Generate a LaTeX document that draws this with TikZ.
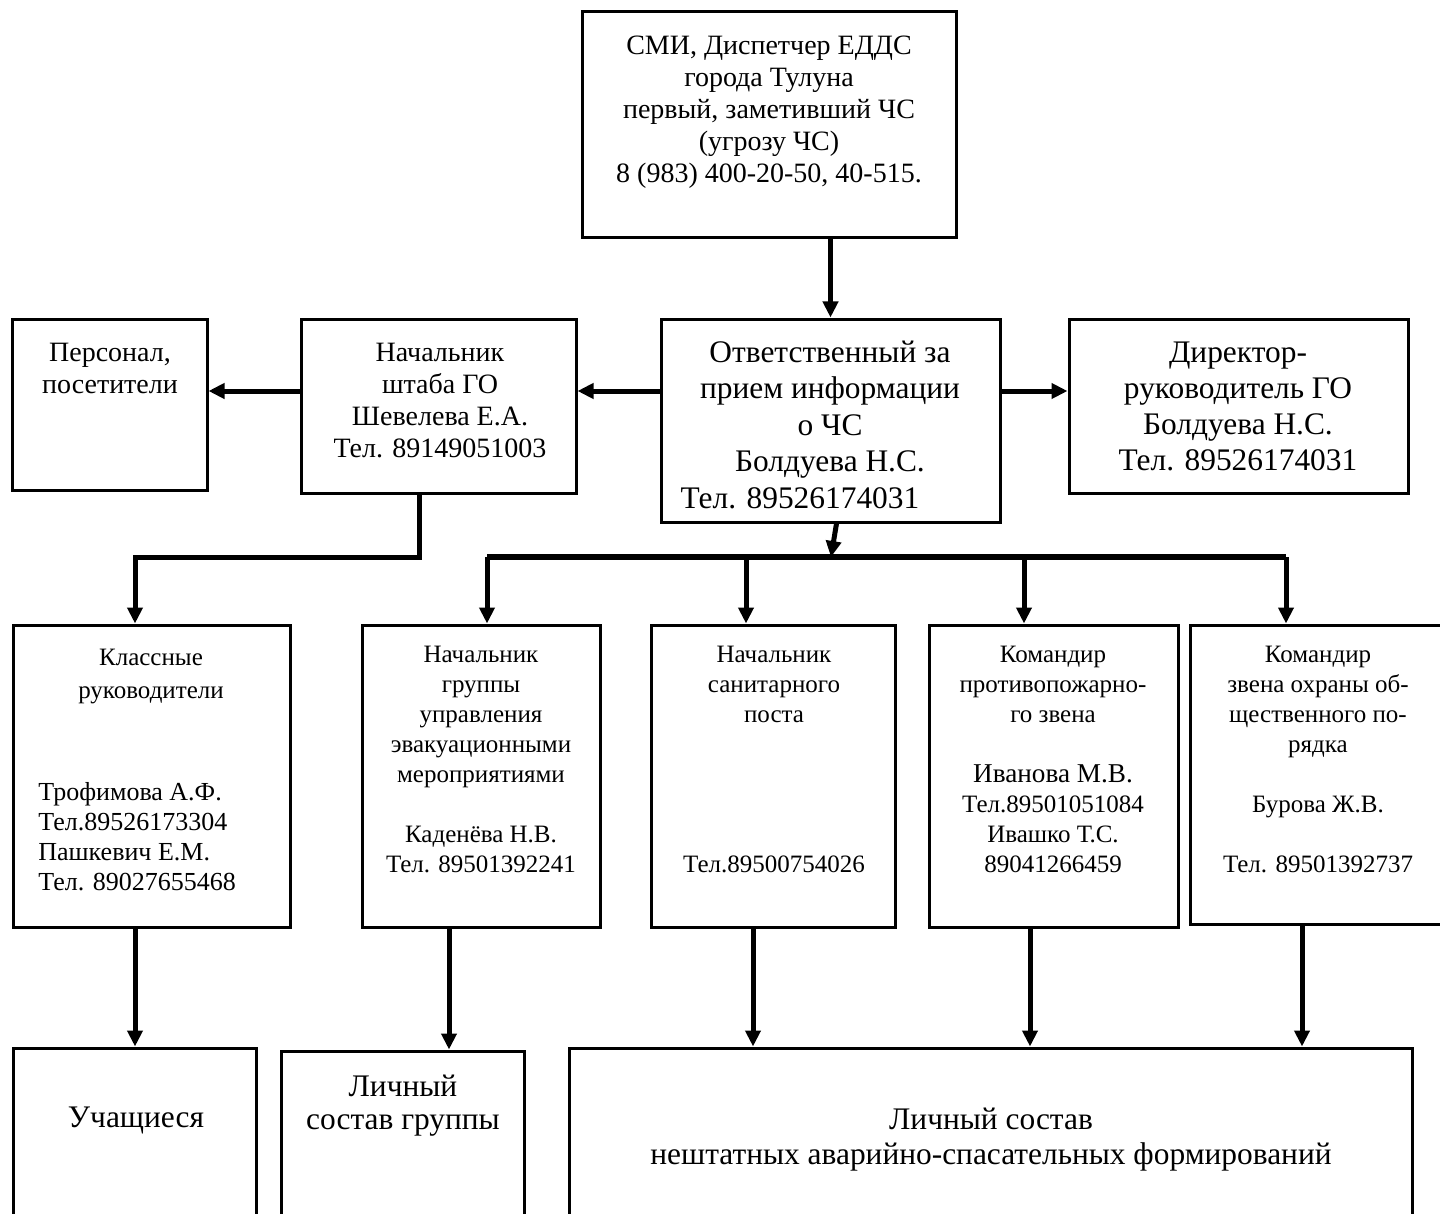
\documentclass[tikz,border=0pt]{standalone}
\usepackage{fontspec}
\setmainfont{Liberation Serif}
\usetikzlibrary{arrows.meta}
\newcommand\fA{\fontsize{14}{16}\selectfont}
\newcommand\fB{\fontsize{15.7}{18}\selectfont}
\newcommand\fC{\fontsize{12.5}{15}\selectfont}
\newcommand\fD{\fontsize{13}{15}\selectfont}
\newcommand\fE{\fontsize{13.6}{15}\selectfont}
\newcommand\bx[5]{\node[boxst,minimum width={(#4-#2)*0.5pt},minimum height={(#5-#3)*0.5pt}] (#1) at ({(#2+#4)/2},{(#3+#5)/2}) {};}
\newcommand\tlines[6]{\foreach \tx [count=\i] in {#6}{\node[txtst,font=#2,anchor=base] (#1-\i) at ({#3},{#4+#5*(\i-1)}) {\tx};}}
\newcommand\tlinesL[6]{\foreach \tx [count=\i] in {#6}{\node[txtst,font=#2,anchor=base west] (#1-\i) at ({#3},{#4+#5*(\i-1)}) {\tx};}}
\tikzset{
  boxst/.style={draw=black,line width=1.5pt,fill=white,inner sep=0pt,rectangle},
  txtst/.style={inner sep=0pt,text=black},
  conn/.style={draw=black,line width=2.5pt},
  arr/.style={conn,-{Triangle[width=7.5pt,length=8pt]}}
}
\begin{document}
\begin{tikzpicture}[x=0.5pt,y=-0.5pt]
\useasboundingbox[fill=white] (0,0) rectangle (1440,1214);
% boxes
\bx{smi}{582}{12}{956}{238}
\bx{pers}{12}{319}{207}{490}
\bx{nsh}{301}{319}{576}{493}
\bx{otv}{661}{319}{1000}{522}
\bx{dir}{1069}{319}{1408}{493}
\bx{kl}{13}{625}{290}{927}
\bx{ngr}{362}{625}{600}{927}
\bx{nsan}{651}{625}{895}{927}
\bx{kpp}{929}{625}{1178}{927}
\bx{kz}{1190}{625}{1470}{924}
\bx{ucha}{13}{1048}{256}{1250}
\bx{lich}{281}{1051}{524}{1250}
\bx{big}{569}{1048}{1412}{1250}
% texts
\tlines{smiT}{\fA}{769}{55}{32}{{СМИ, Диспетчер ЕДДС},{города Тулуна},{первый, заметивший ЧС},{(угрозу ЧС)},{8 (983) 400-20-50, 40-515.}}
\tlines{persT}{\fA}{110}{361}{32}{{Персонал,},{посетители}}
\tlines{nshT}{\fA}{440}{361}{32.3}{{Начальник},{штаба ГО},{Шевелева Е.А.},{Тел. 89149051003}}
\tlines{otvT}{\fB}{830}{362}{36.5}{{Ответственный за},{прием информации},{о ЧС},{Болдуева Н.С.}}
\node[txtst,font=\fB,anchor=base] (otvTel) at (800,508) {Тел. 89526174031};
\tlines{dirT}{\fB}{1238}{362}{36}{{Директор-},{руководитель ГО},{Болдуева Н.С.},{Тел. 89526174031}}
\tlines{klT}{\fC}{151}{665}{33}{{Классные},{руководители}}
\tlinesL{klN}{\fD}{38}{800}{30}{{Трофимова А.Ф.},{Тел.89526173304},{Пашкевич Е.М.},{Тел. 89027655468}}
\tlines{ngrT}{\fC}{481}{662.5}{30}{{Начальник},{группы},{управления},{эвакуационными},{мероприятиями}}
\tlines{ngrN}{\fC}{481}{842.5}{30}{{Каденёва Н.В.},{Тел. 89501392241}}
\tlines{nsanT}{\fC}{774}{662.5}{30}{{Начальник},{санитарного},{поста}}
\node[txtst,font=\fC,anchor=base] (nsanTel) at (774,872.5) {Тел.89500754026};
\tlines{kppT}{\fC}{1053}{662.5}{30}{{Командир},{противопожарно-},{го звена}}
\node[txtst,font=\fE,anchor=base] (kppN) at (1053,782.5) {Иванова М.В.};
\tlines{kppM}{\fC}{1053}{812.5}{30}{{Тел.89501051084},{Ивашко Т.С.},{89041266459}}
\tlines{kzT}{\fC}{1318}{662.5}{30}{{Командир},{звена охраны об-},{щественного по-},{рядка}}
\node[txtst,font=\fC,anchor=base] (kzN) at (1318,812.5) {Бурова Ж.В.};
\node[txtst,font=\fC,anchor=base] (kzTel) at (1318,872.5) {Тел. 89501392737};
\node[txtst,font=\fB,anchor=base] (uchaT) at (136,1127) {Учащиеся};
\tlines{lichT}{\fB}{403}{1096}{33}{{Личный},{состав группы}}
\tlines{bigT}{\fB}{991}{1129}{35}{{Личный состав},{нештатных аварийно-спасательных формирований}}
% helper coordinates
\coordinate (r1) at (0,391);
\coordinate (j1) at (419,557);
\coordinate (j2) at (135,557);
\coordinate (bt) at (831,557);
\coordinate (b1) at (487,557);
\coordinate (b2) at (746,557);
\coordinate (b3) at (1024,557);
\coordinate (b4) at (1286,557);
\coordinate (v2) at (449,0);
\coordinate (v3) at (753,0);
\coordinate (v4) at (1030,0);
\coordinate (v5) at (1302,0);
% connectors
\draw[arr] (otv.north |- smi.south) -- (otv.north);
\draw[arr] (otv.west |- r1) -- (nsh.east |- r1);
\draw[arr] (nsh.west |- r1) -- (pers.east |- r1);
\draw[arr] (otv.east |- r1) -- (dir.west |- r1);
\draw[arr] (j1 |- nsh.south) -- (j1) -- (j2) -- (j2 |- kl.north);
\draw[conn,line width=3pt] (b1) -- (b4);
\draw[arr] ([xshift=3pt]otv.south) -- (bt);
\draw[arr] (b1) -- (b1 |- ngr.north);
\draw[arr] (b2) -- (b2 |- nsan.north);
\draw[arr] (b3) -- (b3 |- kpp.north);
\draw[arr] (b4) -- (b4 |- kz.north);
\draw[arr] (j2 |- kl.south) -- (j2 |- ucha.north);
\draw[arr] (v2 |- ngr.south) -- (v2 |- lich.north);
\draw[arr] (v3 |- nsan.south) -- (v3 |- big.north);
\draw[arr] (v4 |- kpp.south) -- (v4 |- big.north);
\draw[arr] (v5 |- kz.south) -- (v5 |- big.north);
\end{tikzpicture}
\end{document}
